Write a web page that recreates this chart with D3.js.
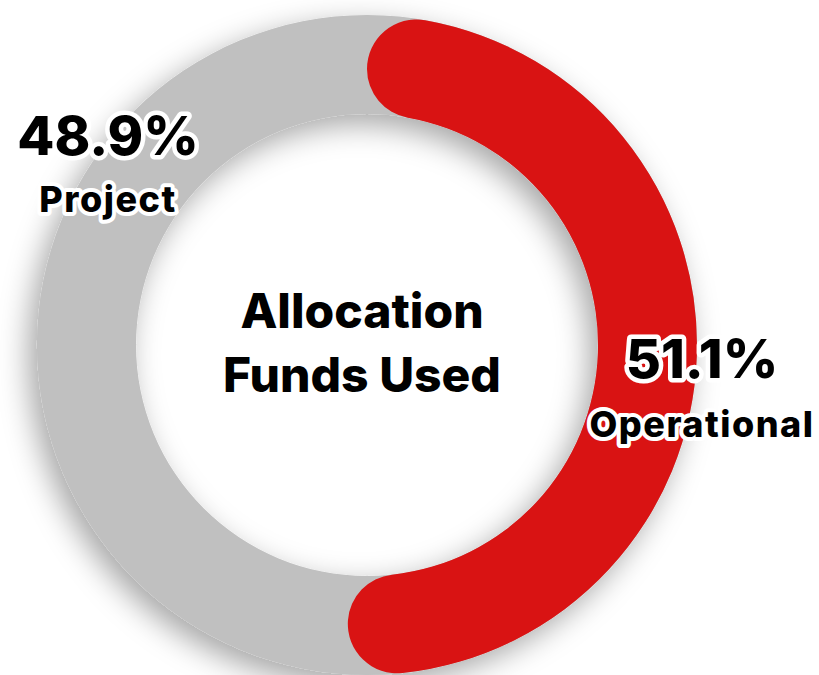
<!DOCTYPE html>
<html>
<head>
<meta charset="utf-8">
<script src="https://cdn.jsdelivr.net/npm/d3@7"></script>
<style>
  body { margin: 0; background: #fff; }
  text { font-family: "Inter", "Open Sans", sans-serif; font-weight: 800; }
</style>
</head>
<body>
<svg id="chart" width="819" height="675"></svg>
<script>
// data
var categories = ["Operational", "Project"];
var shares = [51.1, 48.9];
var colors = ["#d91313", "#c0c0c0"];
var centerTitle = ["Allocation", "Funds Used"];

var cx = 367, cy = 345,
    rOuter = 330, rInner = 231;

var svg = d3.select("#chart");

// soft shadow under the ring
var defs = svg.append("defs");
var f = defs.append("filter")
    .attr("id", "shadow")
    .attr("x", "-20%").attr("y", "-20%")
    .attr("width", "140%").attr("height", "140%");
f.append("feDropShadow")
    .attr("dx", -8).attr("dy", 10)
    .attr("stdDeviation", 15)
    .attr("flood-color", "#000")
    .attr("flood-opacity", 0.35);

var g = svg.append("g")
    .attr("transform", "translate(" + cx + "," + cy + ")");

var total = d3.sum(shares);
var angle = d3.scaleLinear().domain([0, total]).range([0, 2 * Math.PI]);

// grey background ring (the Project share)
g.append("path")
    .attr("filter", "url(#shadow)")
    .attr("fill", colors[1])
    .attr("d", d3.arc()
      .innerRadius(rInner)
      .outerRadius(rOuter)
      .startAngle(0)
      .endAngle(2 * Math.PI)());

// red rounded arc (Operational share)
g.append("path")
    .attr("fill", colors[0])
    .attr("d", d3.arc()
      .innerRadius(rInner)
      .outerRadius(rOuter)
      .cornerRadius((rOuter - rInner) / 2)
      .startAngle(0)
      .endAngle(angle(shares[0]))());

// center title
g.selectAll(".title")
    .data(centerTitle)
  .enter().append("text")
    .attr("class", "title")
    .attr("text-anchor", "middle")
    .attr("x", -5)
    .attr("y", function(d, i) { return -17 + i * 64; })
    .style("font-size", "48px")
    .style("fill", "#000")
    .text(function(d) { return d; });

// outside labels with white outline
var labels = [
  {pct: shares[1], name: categories[1], x: 108, y1: 155, y2: 212},
  {pct: shares[0], name: categories[0], x: 702, y1: 378, y2: 437}
];

var lab = svg.selectAll(".lab")
    .data(labels)
  .enter().append("g")
    .attr("class", "lab");

lab.append("text")
    .attr("x", function(d) { return d.x; })
    .attr("y", function(d) { return d.y1; })
    .attr("text-anchor", "middle")
    .style("font-size", "54px")
    .style("fill", "#000")
    .style("stroke", "#fff")
    .style("stroke-width", "9px")
    .style("stroke-linejoin", "round")
    .style("paint-order", "stroke")
    .text(function(d) { return d3.format(".1f")(d.pct) + "%"; });

lab.append("text")
    .attr("x", function(d) { return d.x; })
    .attr("y", function(d) { return d.y2; })
    .attr("text-anchor", "middle")
    .style("font-size", "36px")
    .style("letter-spacing", "1.5px")
    .style("fill", "#000")
    .style("stroke", "#fff")
    .style("stroke-width", "8px")
    .style("stroke-linejoin", "round")
    .style("paint-order", "stroke")
    .text(function(d) { return d.name; });
</script>
</body>
</html>
